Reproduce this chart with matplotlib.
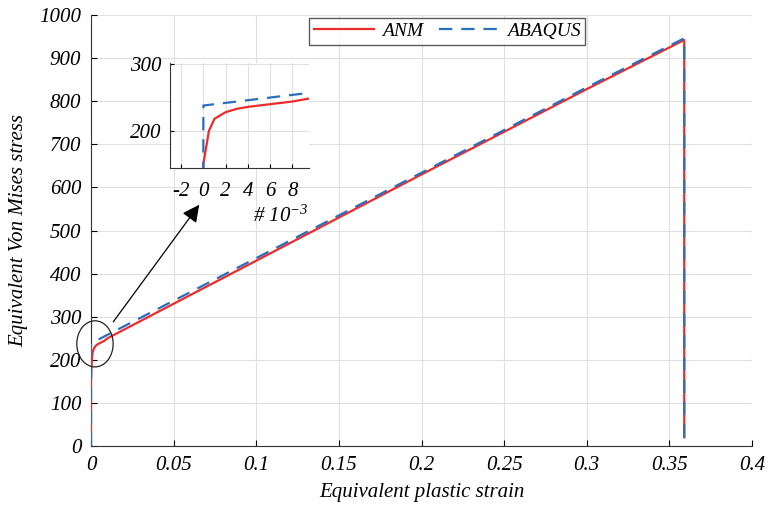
import matplotlib.pyplot as plt
from matplotlib.patches import Ellipse

# datos
anm_deform = [0, 0, 0.0005, 0.001, 0.002, 0.003, 0.004, 0.006, 0.008, 0.01,
              0.1, 0.2, 0.3, 0.359, 0.359]
anm_tension = [0, 150, 200, 218, 228, 233, 236, 240, 244, 250,
               430, 630, 828, 942, 20]

abaqus_deform = [0, 0, 0.01, 0.1, 0.2, 0.3, 0.359, 0.359]
abaqus_tension = [0, 238, 258, 436, 634, 832, 946, 20]

ticks_x = [0, 0.05, 0.1, 0.15, 0.2, 0.25, 0.3, 0.35, 0.4]
etiquetas_x = ["0", "0.05", "0.1", "0.15", "0.2", "0.25", "0.3", "0.35", "0.4"]
ticks_y = list(range(0, 1001, 100))

ticks_inset_x = [-2, 0, 2, 4, 6, 8]

rojo = "#ee2b2b"
azul = "#2a6fbf"

plt.rcParams["font.family"] = ["Liberation Serif", "DejaVu Serif"]
plt.rcParams["font.style"] = "italic"
plt.rcParams["axes.unicode_minus"] = False
plt.rcParams["mathtext.fontset"] = "custom"
plt.rcParams["mathtext.it"] = "Liberation Serif:italic"
plt.rcParams["mathtext.rm"] = "Liberation Serif:italic"

fig = plt.figure(figsize=(7.68, 5.05), dpi=100)
ax = fig.add_axes([91 / 768, 1 - 446 / 505, 661 / 768, 431 / 505])

ax.plot(anm_deform, anm_tension, color=rojo, lw=1.6, label="ANM", zorder=3)
ax.plot(abaqus_deform, abaqus_tension, color=azul, lw=1.6, ls=(0, (6, 4)),
        label="ABAQUS", zorder=4)

ax.set_xlim(0, 0.4)
ax.set_ylim(0, 1000)
ax.set_xticks(ticks_x)
ax.set_xticklabels(etiquetas_x)
ax.set_yticks(ticks_y)
ax.tick_params(direction="in", length=4, labelsize=15, pad=7)
ax.grid(True, color="#e0e0e0", lw=0.8)
ax.spines["top"].set_visible(False)
ax.spines["right"].set_visible(False)
ax.spines["left"].set_color("#333333")
ax.spines["bottom"].set_color("#333333")

ax.set_xlabel("Equivalent plastic strain", fontsize=15, labelpad=6)
ax.set_ylabel("Equivalent Von Mises stress", fontsize=15, labelpad=8)

leg = ax.legend(loc="upper center", bbox_to_anchor=(0.539, 1.016), ncol=2,
                fontsize=14, fancybox=False, edgecolor="#333333",
                handlelength=3.1, handletextpad=0.4, columnspacing=0.8,
                borderpad=0.25)
leg.get_frame().set_linewidth(1.0)

# elipse y flecha
elipse = Ellipse((0.0024, 237), 0.022, 107, fill=False, edgecolor="#222222",
                 lw=0.9, zorder=5, clip_on=False)
ax.add_patch(elipse)
ax.annotate("", xy=(0.0665, 565), xytext=(0.0125, 283),
            arrowprops=dict(arrowstyle="-|>", color="black", lw=0.9,
                            mutation_scale=26), zorder=6)

# grafico ampliado
axi = fig.add_axes([170 / 768, 1 - 168 / 505, 139 / 768, 105 / 505])
axi.plot([x * 1000 for x in anm_deform], anm_tension, color=rojo, lw=1.6)
axi.plot([x * 1000 for x in abaqus_deform], abaqus_tension, color=azul, lw=1.6,
         ls=(0, (6, 4)))
axi.set_xlim(-3, 9.5)
axi.set_ylim(144, 302)
axi.set_xticks(ticks_inset_x)
axi.set_yticks([200, 300])
axi.tick_params(axis="x", direction="in", length=3, labelsize=15, pad=10)
axi.tick_params(axis="y", direction="in", length=3, labelsize=15, pad=6)
axi.grid(True, color="#e0e0e0", lw=0.8)
axi.spines["top"].set_visible(False)
axi.spines["right"].set_visible(False)
axi.spines["left"].set_color("#333333")
axi.spines["bottom"].set_color("#333333")
axi.set_facecolor("white")
fig.text(253 / 768, 1 - 222 / 505, "# $10^{-3}$", fontsize=15)

fig.savefig("out.png", dpi=100)
print("Grafico guardado correctamente.")
